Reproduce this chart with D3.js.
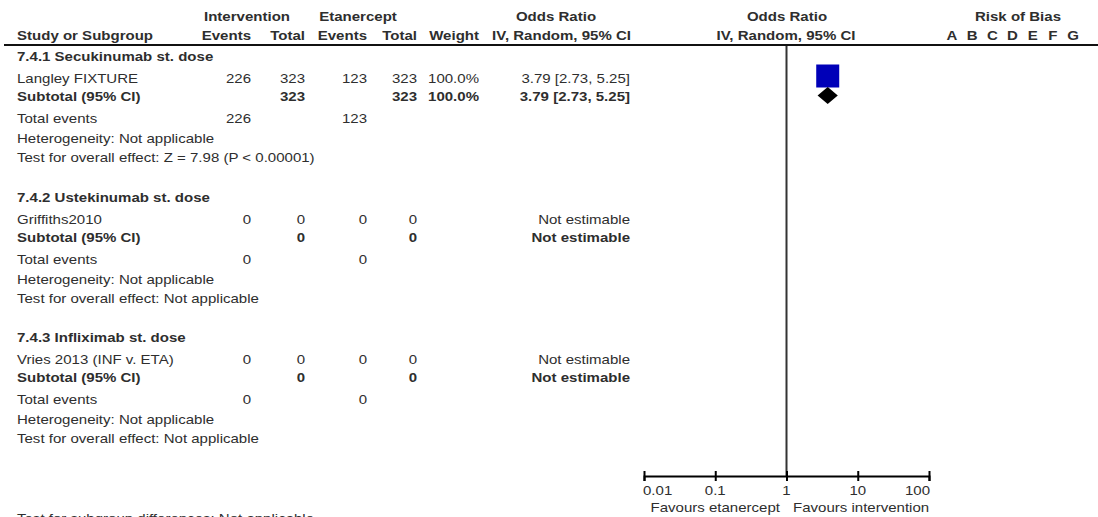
<!DOCTYPE html>
<html>
<head>
<meta charset="utf-8">
<script src="https://cdn.jsdelivr.net/npm/d3@7"></script>
<style>
  html, body { margin: 0; padding: 0; background: #fff; }
  svg { display: block; }
  text { font-family: "Liberation Sans", Arial, Helvetica, sans-serif; font-size: 13.3px; fill: #2e2e2e; }
  .b { font-weight: bold; }
</style>
</head>
<body>
<svg id="chart" width="1098" height="517"></svg>
<script>
// ---------------- data ----------------
const subgroups = ["7.4.1 Secukinumab st. dose", "7.4.2 Ustekinumab st. dose", "7.4.3 Infliximab st. dose"];
const studies = ["Langley FIXTURE", "Griffiths2010", "Vries 2013 (INF v. ETA)"];
const intEvents = [226, 0, 0];
const intTotal = [323, 0, 0];
const etaEvents = [123, 0, 0];
const etaTotal = [323, 0, 0];
const weights = ["100.0%", "", ""];
const subtotalWeights = ["100.0%", "", ""];
const oddsRatio = [3.79, null, null];
const ciLow = [2.73, null, null];
const ciHigh = [5.25, null, null];
const weightPct = [100, 0, 0];
const heterogeneity = ["Not applicable", "Not applicable", "Not applicable"];
const overallEffect = ["Z = 7.98 (P < 0.00001)", "Not applicable", "Not applicable"];
const subgroupDiff = "Test for subgroup differences: Not applicable";
const axisTicks = [0.01, 0.1, 1, 10, 100];
const tickLabels = ["0.01", "0.1", "1", "10", "100"];
const favourLeft = "Favours etanercept";
const favourRight = "Favours intervention";
const biasDomains = ["A", "B", "C", "D", "E", "F", "G"];

// ---------------- layout ----------------
const svg = d3.select("#chart");
const SX = 1.13; // horizontal stretch of the original typeface

function txt(g, x, y, s, opt = {}) {
  return g.append("text")
    .attr("transform", `translate(${x},${y}) scale(${SX},1)`)
    .attr("text-anchor", opt.anchor || "start")
    .attr("class", opt.bold ? "b" : null)
    .text(s);
}

const col = { study: 17, intE: 251, intT: 305, etaE: 367, etaT: 417, w: 479, est: 630 };
const fmt = d3.format(".2f");

// headers
const hdr = svg.append("g");
txt(hdr, 247, 21, "Intervention", { anchor: "middle", bold: true });
txt(hdr, 358, 21, "Etanercept", { anchor: "middle", bold: true });
txt(hdr, 556, 21, "Odds Ratio", { anchor: "middle", bold: true });
txt(hdr, 787, 21, "Odds Ratio", { anchor: "middle", bold: true });
txt(hdr, 1018, 21, "Risk of Bias", { anchor: "middle", bold: true });
txt(hdr, col.study, 40, "Study or Subgroup", { bold: true });
txt(hdr, col.intE, 40, "Events", { anchor: "end", bold: true });
txt(hdr, col.intT, 40, "Total", { anchor: "end", bold: true });
txt(hdr, col.etaE, 40, "Events", { anchor: "end", bold: true });
txt(hdr, col.etaT, 40, "Total", { anchor: "end", bold: true });
txt(hdr, col.w, 40, "Weight", { anchor: "end", bold: true });
txt(hdr, 631, 40, "IV, Random, 95% CI", { anchor: "end", bold: true });
txt(hdr, 786, 40, "IV, Random, 95% CI", { anchor: "middle", bold: true });
const biasX = d3.scalePoint().domain(biasDomains).range([952, 1073]);
biasDomains.forEach(d => txt(hdr, biasX(d), 40, d, { anchor: "middle", bold: true }));
hdr.append("line").attr("x1", 4).attr("x2", 1098).attr("y1", 45).attr("y2", 45)
  .attr("stroke", "#111").attr("stroke-width", 2);

// forest scale
const x = d3.scaleLog().domain([0.01, 100]).range([644, 929]);
const axisY = 476;
const sizeScale = d3.scaleSqrt().domain([0, 100]).range([0, 23]);

const sectionTop = [61, 202, 342];
const body = svg.append("g");
const marks = svg.append("g");

subgroups.forEach((sg, i) => {
  const S = sectionTop[i];
  txt(body, col.study, S, sg, { bold: true });
  // study row
  const r1 = S + 22;
  txt(body, col.study, r1, studies[i]);
  txt(body, col.intE, r1, intEvents[i], { anchor: "end" });
  txt(body, col.intT, r1, intTotal[i], { anchor: "end" });
  txt(body, col.etaE, r1, etaEvents[i], { anchor: "end" });
  txt(body, col.etaT, r1, etaTotal[i], { anchor: "end" });
  if (weights[i]) txt(body, col.w, r1, weights[i], { anchor: "end" });
  const est = oddsRatio[i] == null ? "Not estimable"
    : `${fmt(oddsRatio[i])} [${fmt(ciLow[i])}, ${fmt(ciHigh[i])}]`;
  txt(body, col.est, r1, est, { anchor: "end" });
  // subtotal
  const r2 = S + 40;
  txt(body, col.study, r2, "Subtotal (95% CI)", { bold: true });
  txt(body, col.intT, r2, intTotal[i], { anchor: "end", bold: true });
  txt(body, col.etaT, r2, etaTotal[i], { anchor: "end", bold: true });
  if (subtotalWeights[i]) txt(body, col.w, r2, subtotalWeights[i], { anchor: "end", bold: true });
  txt(body, col.est, r2, est, { anchor: "end", bold: true });
  // totals
  const r3 = S + 62;
  txt(body, col.study, r3, "Total events");
  txt(body, col.intE, r3, intEvents[i], { anchor: "end" });
  txt(body, col.etaE, r3, etaEvents[i], { anchor: "end" });
  txt(body, col.study, S + 82, "Heterogeneity: " + heterogeneity[i]);
  txt(body, col.study, S + 101, "Test for overall effect: " + overallEffect[i]);

  if (oddsRatio[i] != null) {
    const s = sizeScale(weightPct[i]);
    const cy = r1 - 7;
    marks.append("line")
      .attr("x1", x(ciLow[i])).attr("x2", x(ciHigh[i]))
      .attr("y1", cy).attr("y2", cy)
      .attr("stroke", "#000").attr("stroke-width", 1);
    marks.append("rect")
      .attr("x", x(oddsRatio[i]) - s / 2).attr("y", cy - s / 2)
      .attr("width", s).attr("height", s)
      .attr("fill", "#0000b8");
    const dy = r2 - 5.5, h = 8.5;
    marks.append("path")
      .attr("d", `M${x(ciLow[i])},${dy} L${x(oddsRatio[i])},${dy - h} L${x(ciHigh[i])},${dy} L${x(oddsRatio[i])},${dy + h} Z`)
      .attr("fill", "#000");
  }
});

txt(body, col.study, 523, subgroupDiff);

// null line
svg.append("line")
  .attr("x1", x(1)).attr("x2", x(1)).attr("y1", 46).attr("y2", axisY)
  .attr("stroke", "#333").attr("stroke-width", 2);

// axis
const axisG = svg.append("g").attr("transform", `translate(0,${axisY})`)
  .call(d3.axisBottom(x).tickValues(axisTicks).tickSizeOuter(0).tickSize(5).tickFormat(""));
axisG.select(".domain").attr("stroke", "#000").attr("stroke-width", 2);
axisG.selectAll(".tick line").attr("y1", -5).attr("y2", 5).attr("stroke", "#000").attr("stroke-width", 2);
axisTicks.forEach((t, i) => {
  const anchor = i === 0 ? "start" : (i === axisTicks.length - 1 ? "end" : "middle");
  const xx = i === 0 ? x(t) - 1 : (i === axisTicks.length - 1 ? x(t) + 1 : x(t));
  txt(svg, xx, 495, tickLabels[i], { anchor });
});
txt(svg, 780, 512, favourLeft, { anchor: "end" });
txt(svg, 793, 512, favourRight, { anchor: "start" });
</script>
</body>
</html>
